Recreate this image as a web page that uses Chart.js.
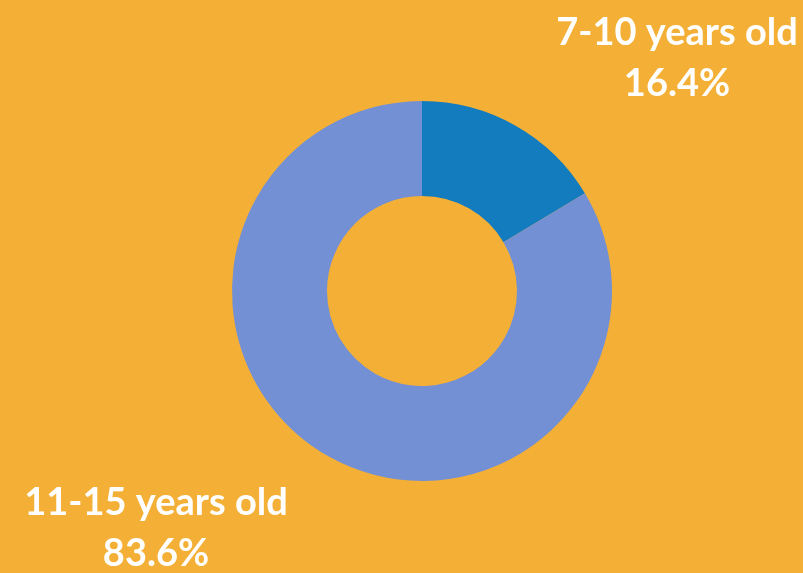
<!DOCTYPE html>
<html>
<head>
<meta charset="utf-8">
<script src="https://cdn.jsdelivr.net/npm/chart.js@4"></script>
<style>
  html, body { margin: 0; padding: 0; background: #F4B036; }
  #wrap { width: 803px; height: 573px; position: relative; }
</style>
</head>
<body>
<div id="wrap"><canvas id="ageChart" width="803" height="573"></canvas></div>
<script>
const categories = ['7-10 years old', '11-15 years old'];
const shares = [16.4, 83.6];
const sliceColors = ['#127CBF', '#7390D4'];

// where each label block is centred (line 1 baseline, line 2 baseline)
const labelSpots = [
    { x: 677, y1: 45, y2: 96 },
    { x: 156, y1: 515, y2: 566 }
];

const sliceLabels = {
    id: 'sliceLabels',
    afterDraw(chart) {
        const ctx = chart.ctx;
        const data = chart.data.datasets[0].data;
        ctx.save();
        ctx.fillStyle = '#ffffff';
        ctx.textAlign = 'center';
        ctx.textBaseline = 'alphabetic';
        ctx.font = 'bold 38px Lato';
        chart.data.labels.forEach(function (label, i) {
            const spot = labelSpots[i];
            ctx.fillText(label, spot.x, spot.y1);
            ctx.fillText(data[i].toFixed(1) + '%', spot.x, spot.y2);
        });
        ctx.restore();
    }
};

new Chart(document.getElementById('ageChart').getContext('2d'), {
    type: 'doughnut',
    data: {
        labels: categories,
        datasets: [{
            data: shares,
            backgroundColor: sliceColors,
            borderWidth: 0,
            hoverOffset: 0
        }]
    },
    options: {
        responsive: false,
        animation: false,
        cutout: '50%',
        layout: { padding: { top: 101, bottom: 92, left: 232, right: 191 } },
        plugins: {
            legend: { display: false },
            tooltip: { enabled: false }
        }
    },
    plugins: [sliceLabels]
});
</script>
</body>
</html>
